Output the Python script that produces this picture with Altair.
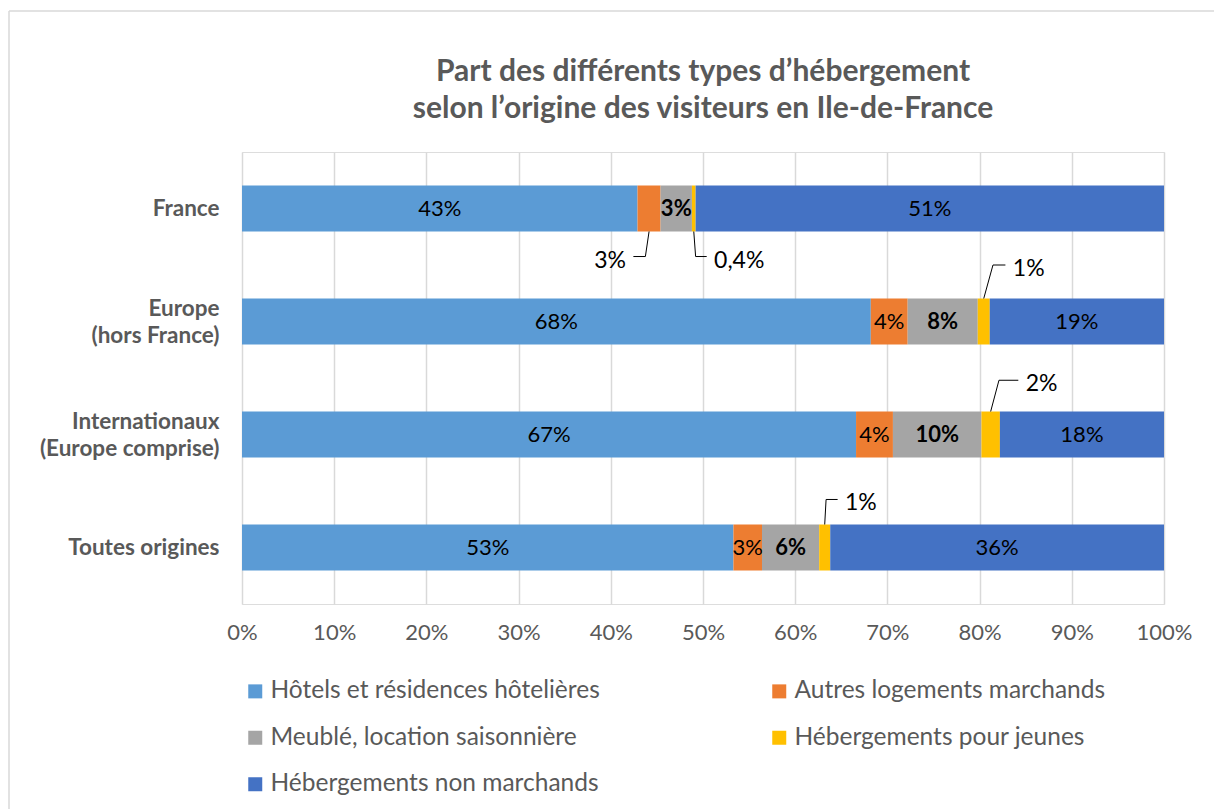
import altair as alt
import pandas as pd

# ---------------- data ----------------
categories = ["France", "Europe (hors France)", "Internationaux (Europe comprise)", "Toutes origines"]
category_lines = [["France"], ["Europe", "(hors France)"], ["Internationaux", "(Europe comprise)"], ["Toutes origines"]]

series = [
    "Hôtels et résidences hôtelières",
    "Autres logements marchands",
    "Meublé, location saisonnière",
    "Hébergements pour jeunes",
    "Hébergements non marchands",
]
colors = ["#5B9BD5", "#ED7D31", "#A5A5A5", "#FFC000", "#4472C4"]

hotels = [42.9, 68.2, 66.6, 53.3]
autres = [2.5, 4.0, 4.0, 3.1]
meuble = [3.4, 7.6, 9.6, 6.2]
jeunes = [0.4, 1.3, 2.0, 1.2]
non_marchands = [50.8, 18.9, 17.8, 36.2]

hotels_lbl = ["43%", "68%", "67%", "53%"]
autres_lbl = ["3%", "4%", "4%", "3%"]
meuble_lbl = ["3%", "8%", "10%", "6%"]
jeunes_lbl = ["0,4%", "1%", "2%", "1%"]
non_marchands_lbl = ["51%", "19%", "18%", "36%"]

x_ticks = [i / 10 for i in range(11)]

title_lines = [
    "Part des différents types d\u2019hébergement",
    "selon l\u2019origine des visiteurs en Ile-de-France",
]

# leader-line layout for labels placed outside their segment
# (category index, series index, side, elbow shift %, horizontal run %, level in bands)
leader_layout = [
    (0, 1, "below", -0.4, -1.3, 0.425),
    (0, 3, "below", 0.2, 1.2, 0.425),
    (1, 3, "above", 1.0, 1.35, 0.50),
    (2, 3, "above", 0.9, 2.1, 0.48),
    (3, 3, "above", 0.15, 1.25, 0.425),
]

# ---------------- build tables ----------------
all_values = [hotels, autres, meuble, jeunes, non_marchands]
all_labels = [hotels_lbl, autres_lbl, meuble_lbl, jeunes_lbl, non_marchands_lbl]
BAR_HALF = 0.2035
n_cat = len(categories)

rows = []
for i, cat in enumerate(categories):
    center = n_cat - 0.5 - i
    cum = 0.0
    for j, s in enumerate(series):
        v = all_values[j][i]
        start, end = cum, cum + v
        cum = end
        outside = any(l[0] == i and l[1] == j for l in leader_layout)
        rows.append({
            "cat": cat, "series": s, "center": center,
            "y0": center - BAR_HALF, "y1": center + BAR_HALF,
            "start": start / 100, "end": end / 100, "mid": (start + end) / 200,
            "label": all_labels[j][i],
            "inside": not outside,
            "bold": j == 2,
        })
bars = pd.DataFrame(rows)

line_rows, text_rows = [], []
for k, (ci, sj, side, elbow, run, level) in enumerate(leader_layout):
    r = bars[(bars["cat"] == categories[ci]) & (bars["series"] == series[sj])].iloc[0]
    sgn = 1 if side == "above" else -1
    x0 = r["mid"] * 100
    x1 = x0 + elbow
    x2 = x1 + run
    yb = r["center"] + sgn * BAR_HALF
    yl = r["center"] + sgn * level
    for p, (xx, yy) in enumerate([(x0, yb), (x1, yl), (x2, yl)]):
        line_rows.append({"id": k, "pt": p, "x": xx / 100, "y": yy})
    direction = 1 if run > 0 else -1
    text_rows.append({"x": (x2 + direction * 0.8) / 100, "y": yl, "label": r["label"],
                      "align": "left" if direction > 0 else "right"})
leaders = pd.DataFrame(line_rows)
leader_txt = pd.DataFrame(text_rows)

# ---------------- scales / axes ----------------
FONT = "Lato"
GRAY_TXT = "#595959"

x_scale = alt.Scale(domain=[0, 1], nice=False)
y_scale = alt.Scale(domain=[0, n_cat], nice=False, zero=False)

label_expr = ""
multi_line_test = []
for i, lines in enumerate(category_lines):
    c = n_cat - 0.5 - i
    arr = "[" + ",".join("'" + t + "'" for t in lines) + "]"
    label_expr += f"datum.value == {c} ? {arr} : "
    if len(lines) > 1:
        multi_line_test.append(f"datum.value == {c}")
label_expr += "''"
LINE_H = 27

x_axis = alt.Axis(values=x_ticks, format=".0%", title=None, domain=False, ticks=False,
                  grid=True, gridColor="#D9D9D9", gridWidth=1.5, labelFlush=False,
                  labelFont=FONT, labelFontSize=22, labelColor=GRAY_TXT, labelPadding=18)
y_axis = alt.Axis(values=[n_cat - 0.5 - i for i in range(n_cat)], labelExpr=label_expr,
                  title=None, domain=False, ticks=False, grid=False,
                  labelFont=FONT, labelFontSize=22.5, labelFontWeight="bold",
                  labelColor=GRAY_TXT, labelPadding=23, labelLineHeight=LINE_H,
                  labelBaseline="middle",
                  labelOffset=alt.condition(" || ".join(multi_line_test),
                                            alt.value(-LINE_H / 2), alt.value(0)))

bar_layer = alt.Chart(bars).mark_bar(strokeWidth=0).encode(
    x=alt.X("start:Q", scale=x_scale, axis=x_axis),
    x2="end:Q",
    y=alt.Y("y0:Q", scale=y_scale, axis=y_axis),
    y2="y1:Q",
    color=alt.Color("series:N", scale=alt.Scale(domain=series, range=colors),
                    legend=alt.Legend(title=None, orient="none", legendX=1, legendY=527,
                                      direction="horizontal",
                                      columns=2, columnPadding=167, rowPadding=21.5,
                                      symbolType="square", symbolSize=196,
                                      symbolStrokeWidth=0, labelFont=FONT,
                                      labelFontSize=24.5, labelColor=GRAY_TXT,
                                      labelOffset=3, labelLimit=0, padding=0)),
)

txt_normal = alt.Chart(bars).transform_filter("datum.inside && !datum.bold").mark_text(
    font=FONT, fontSize=22, color="#000000", baseline="middle", align="center"
).encode(x="mid:Q", y="center:Q", text="label:N")

txt_bold = alt.Chart(bars).transform_filter("datum.inside && datum.bold").mark_text(
    font=FONT, fontSize=22, fontWeight="bold", color="#000000", baseline="middle", align="center"
).encode(x="mid:Q", y="center:Q", text="label:N")

leader_lines = alt.Chart(leaders).mark_line(color="#000000", strokeWidth=1).encode(
    x="x:Q", y="y:Q", detail="id:N", order="pt:Q"
)

leader_right = alt.Chart(leader_txt).transform_filter("datum.align == 'left'").mark_text(
    font=FONT, fontSize=23, color="#000000", baseline="middle", align="left", dy=4
).encode(x="x:Q", y="y:Q", text="label:N")

leader_left = alt.Chart(leader_txt).transform_filter("datum.align == 'right'").mark_text(
    font=FONT, fontSize=23, color="#000000", baseline="middle", align="right", dy=4
).encode(x="x:Q", y="y:Q", text="label:N")

frame_df = pd.DataFrame({"k": [0]})
frame_left = alt.Chart(frame_df).mark_rule(color="#D9D9D9", strokeWidth=1.5).encode(
    x=alt.value(-233), y=alt.value(-141), y2=alt.value(700))
frame_top = alt.Chart(frame_df).mark_rule(color="#D9D9D9", strokeWidth=1.5).encode(
    x=alt.value(-233), x2=alt.value(1000), y=alt.value(-141))

chart = alt.layer(
    bar_layer, txt_normal, txt_bold, leader_lines, leader_right, leader_left,
    frame_left, frame_top
).properties(
    width=922, height=452,
    autosize=alt.AutoSizeParams(type="none"),
    padding={"left": 234, "top": 144, "right": 50, "bottom": 205},
    title=alt.TitleParams(text=title_lines, font=FONT, fontSize=30, fontWeight="bold",
                          color=GRAY_TXT, anchor="middle", frame="group",
                          lineHeight=37, offset=0, dy=114),
).configure_view(stroke=None).configure(background="white")

chart.save("out.html", embed_options={"renderer": "svg", "actions": False})
